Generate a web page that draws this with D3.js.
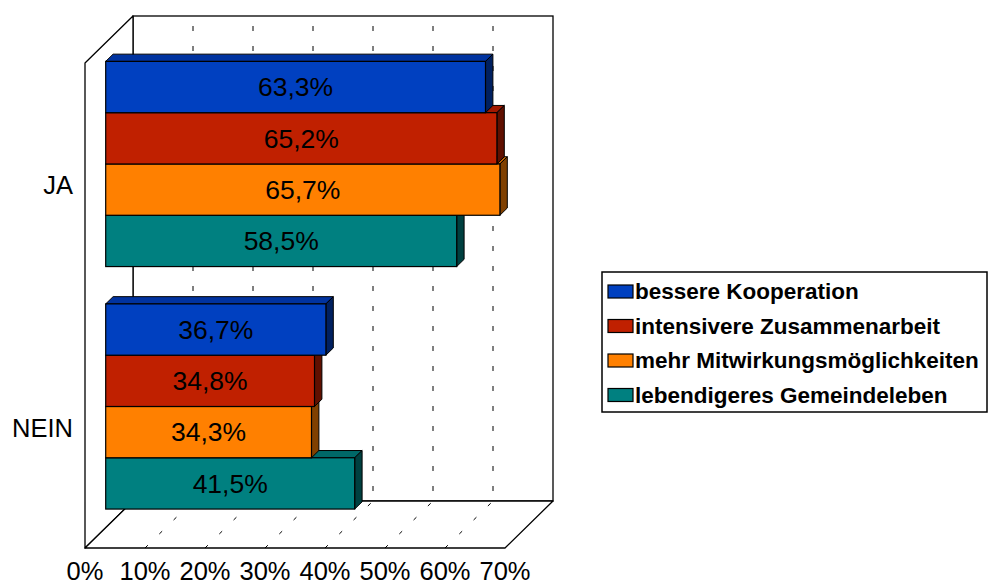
<!DOCTYPE html>
<html>
<head>
<meta charset="utf-8">
<script src="https://cdn.jsdelivr.net/npm/d3@7"></script>
<style>
  html, body { margin: 0; padding: 0; background: #fff; }
  svg { display: block; font-family: Arial, "Liberation Sans", sans-serif; }
</style>
</head>
<body>
<svg id="chart" width="990" height="584"></svg>
<script>
const categories = ["JA", "NEIN"];
const seriesNames = ["bessere Kooperation", "intensivere Zusammenarbeit", "mehr Mitwirkungsmöglichkeiten", "lebendigeres Gemeindeleben"];
const valuesJA = [63.3, 65.2, 65.7, 58.5];
const valuesNEIN = [36.7, 34.8, 34.3, 41.5];
const xTickValues = [0, 10, 20, 30, 40, 50, 60, 70];
const xTickLabels = ["0%", "10%", "20%", "30%", "40%", "50%", "60%", "70%"];

const frontColors = ["#0040C0", "#C02000", "#FF8000", "#008080"];
const topColors   = ["#0033A0", "#A01800", "#C86400", "#006868"];
const sideColors  = ["#002060", "#601000", "#804000", "#004040"];

const dataByCat = { "JA": valuesJA, "NEIN": valuesNEIN };

const svg = d3.select("#chart");
const DX = 48, DY = 47;          // depth offset of the 3D box
const F0 = 20.7 / 48, F1 = (20.7 + 7.4) / 48; // bar front/back depth fractions

const x = d3.scaleLinear().domain([0, 70]).range([85, 505]);
const y = d3.scaleBand().domain(categories).range([63, 548]).paddingInner(0).paddingOuter(0);
const yInner = d3.scaleBand().domain(seriesNames).range([0, y.bandwidth()]).paddingInner(0).paddingOuter(0.364);

function proj(v, yy, d) { return [x(v) + d * DX, yy - d * DY]; }
const yTop = y.range()[0], yBot = y.range()[1];

const wallStroke = "#000", wallW = 1.3;

// back wall
const bwTL = proj(0, yTop, 1), bwBR = proj(70, yBot, 1);
svg.append("rect")
  .attr("x", bwTL[0]).attr("y", bwTL[1])
  .attr("width", bwBR[0] - bwTL[0]).attr("height", bwBR[1] - bwTL[1])
  .attr("fill", "#fff").attr("stroke", wallStroke).attr("stroke-width", wallW);

// left wall
svg.append("polygon")
  .attr("points", [proj(0, yTop, 0), proj(0, yTop, 1), proj(0, yBot, 1), proj(0, yBot, 0)].map(p => p.join(",")).join(" "))
  .attr("fill", "#fff").attr("stroke", wallStroke).attr("stroke-width", wallW).attr("stroke-linejoin", "round");

// floor
svg.append("polygon")
  .attr("points", [proj(0, yBot, 0), proj(70, yBot, 0), proj(70, yBot, 1), proj(0, yBot, 1)].map(p => p.join(",")).join(" "))
  .attr("fill", "#fff").attr("stroke", wallStroke).attr("stroke-width", wallW).attr("stroke-linejoin", "round");

// gridlines on back wall
const gridVals = xTickValues.filter(v => v > 0 && v < 70);
svg.append("g").selectAll("line").data(gridVals).join("line")
  .attr("x1", d => proj(d, yTop, 1)[0]).attr("y1", d => proj(d, yTop, 1)[1])
  .attr("x2", d => proj(d, yBot, 1)[0]).attr("y2", d => proj(d, yBot, 1)[1])
  .attr("stroke", "#000").attr("stroke-width", 1)
  .attr("stroke-dasharray", "5,15").attr("stroke-dashoffset", 10);

// gridlines on floor
svg.append("g").selectAll("line").data(gridVals).join("line")
  .attr("x1", d => proj(d, yBot, 0)[0]).attr("y1", d => proj(d, yBot, 0)[1])
  .attr("x2", d => proj(d, yBot, 1)[0]).attr("y2", d => proj(d, yBot, 1)[1])
  .attr("stroke", "#000").attr("stroke-width", 1)
  .attr("stroke-dasharray", "4,16");

// bars
const fmt = v => v.toFixed(1).replace(".", ",") + "%";
const barsG = svg.append("g");
categories.forEach(cat => {
  const vals = dataByCat[cat];
  for (let i = seriesNames.length - 1; i >= 0; i--) {
    const v = vals[i];
    const t = y(cat) + yInner(seriesNames[i]);
    const b = t + yInner.bandwidth();
    const g = barsG.append("g");
    const pts = arr => arr.map(p => p.join(",")).join(" ");
    g.append("polygon")
      .attr("points", pts([proj(0, t, F0), proj(v, t, F0), proj(v, t, F1), proj(0, t, F1)]))
      .attr("fill", topColors[i]).attr("stroke", "#000").attr("stroke-width", 1).attr("stroke-linejoin", "round");
    g.append("polygon")
      .attr("points", pts([proj(v, t, F0), proj(v, t, F1), proj(v, b, F1), proj(v, b, F0)]))
      .attr("fill", sideColors[i]).attr("stroke", "#000").attr("stroke-width", 1).attr("stroke-linejoin", "round");
    const p0 = proj(0, t, F0), p1 = proj(v, b, F0);
    g.append("rect")
      .attr("x", p0[0]).attr("y", p0[1])
      .attr("width", p1[0] - p0[0]).attr("height", p1[1] - p0[1])
      .attr("fill", frontColors[i]).attr("stroke", "#000").attr("stroke-width", 1.2);
    g.append("text")
      .attr("x", (p0[0] + p1[0]) / 2).attr("y", (p0[1] + p1[1]) / 2)
      .attr("dy", "0.35em").attr("text-anchor", "middle")
      .attr("font-size", 26.5).attr("fill", "#000")
      .text(fmt(v));
  }
});

// x axis labels
svg.append("g").selectAll("text").data(xTickValues).join("text")
  .attr("x", d => x(d)).attr("y", 580)
  .attr("text-anchor", "middle").attr("font-size", 25.5).attr("fill", "#000")
  .text((d, i) => xTickLabels[i]);

// category labels
svg.append("g").selectAll("text").data(categories).join("text")
  .attr("x", 73).attr("y", d => y(d) + y.bandwidth() / 2 + 1)
  .attr("dy", "0.35em").attr("text-anchor", "end")
  .attr("font-size", 25.5).attr("fill", "#000")
  .text(d => d);

// legend
const lg = svg.append("g");
lg.append("rect").attr("x", 602).attr("y", 272).attr("width", 385).attr("height", 140)
  .attr("fill", "#fff").attr("stroke", "#000").attr("stroke-width", 1.5);
const ly = d3.scalePoint().domain(seriesNames).range([291.5, 395]);
seriesNames.forEach((s, i) => {
  lg.append("rect").attr("x", 608).attr("y", ly(s) - 6.5).attr("width", 25).attr("height", 13)
    .attr("fill", frontColors[i]).attr("stroke", "#000").attr("stroke-width", 1.2);
  lg.append("text").attr("x", 635).attr("y", ly(s)).attr("dy", "0.35em")
    .attr("font-size", 22.5).attr("font-weight", "bold").attr("fill", "#000")
    .text(s);
});
</script>
</body>
</html>
